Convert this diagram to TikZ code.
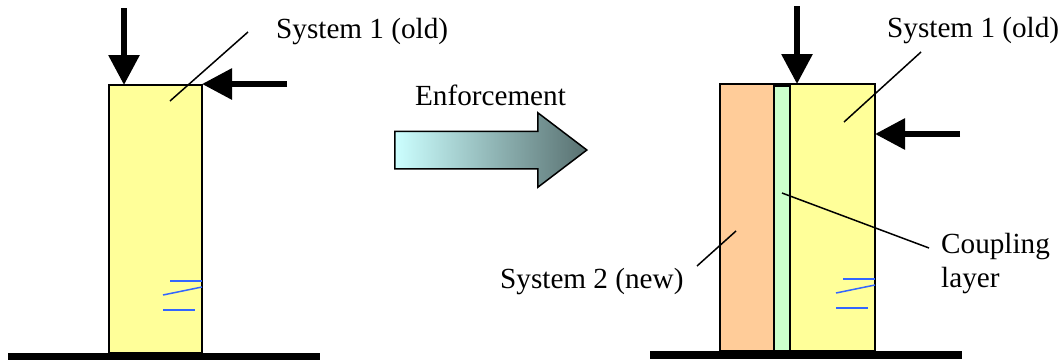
\documentclass[tikz,border=0pt]{standalone}
\usepackage{fontspec}
\setmainfont{Liberation Serif}
\usetikzlibrary{arrows.meta, positioning, shapes.arrows}

\definecolor{oldyellow}{RGB}{255,255,153}
\definecolor{neworange}{RGB}{255,204,153}
\definecolor{couplegreen}{RGB}{204,255,204}
\definecolor{springblue}{RGB}{51,102,255}
\definecolor{paleend}{RGB}{204,255,255}
\definecolor{darkend}{RGB}{88,112,112}

\begin{document}
\begin{tikzpicture}[
        x=1pt, y=-1pt,
        oldbox/.style={rectangle, draw, line width=1.7pt, fill=oldyellow, outer sep=0pt, inner sep=0pt},
        newbox/.style={rectangle, draw, line width=1.7pt, fill=neworange, outer sep=0pt, inner sep=0pt},
        couplebox/.style={rectangle, draw, line width=1.7pt, fill=couplegreen, outer sep=0pt, inner sep=0pt},
        groundbar/.style={rectangle, fill=black, minimum height=7pt, outer sep=0pt, inner sep=0pt},
        loadarrow/.style={line width=6pt, -{Triangle[length=30pt, width=30pt]}},
        leader/.style={-, line width=1.5pt},
        spring/.style={-, line width=1.5pt, springblue},
        lab/.style={font=\fontsize{29.2}{34}\selectfont, align=left, inner sep=0pt, anchor=base west},
        enforcearrow/.style={single arrow, draw, line width=1.5pt, left color=paleend, right color=darkend,
                shading angle=90, minimum height=192pt, minimum width=73pt, inner xsep=0pt, inner ysep=18pt,
                single arrow head extend=18.5pt, single arrow tip angle=74.5, single arrow head indent=0pt, outer sep=0pt},
    ]
    \useasboundingbox (0,0) rectangle (1063,360);

    % === BEFORE ===
    \node[oldbox, minimum width=93pt, minimum height=268pt] (oldleft) at (155.5,219) {};
    \node[groundbar, minimum width=312pt] (groundleft) at (164,356.5) {};
    \node[lab] (labelleft) at (276,38) {System 1 (old)};

    \coordinate (topleft) at (124,8);
    \coordinate (sideleft) at (287,84);
    \coordinate (leadleft) at (248,32);
    \draw[loadarrow] (topleft) -- (topleft |- oldleft.north);
    \draw[loadarrow] (sideleft) -- (sideleft -| oldleft.east);
    \draw[leader] (leadleft) -- (170,101);

    % === ENFORCEMENT ===
    \node[enforcearrow] (enforce) at (478.5,150) {};
    \node[lab, anchor=base] (enforcelab) at (490.5,105) {Enforcement};

    % === AFTER ===
    \node[oldbox, minimum width=100pt, minimum height=267pt] (oldright) at (825,217.5) {};
    \node[newbox, minimum width=55pt, minimum height=267pt] (newright) at (747.5,217.5) {};
    \node[couplebox, minimum width=16pt, minimum height=265pt] (couple) at (782,218.5) {};
    \node[groundbar, minimum width=312pt, minimum height=8pt] (groundright) at (806,355) {};

    \node[lab] (labelright) at (887,37) {System 1 (old)};
    \node[lab] (labelnew) at (500,288) {System 2 (new)};
    \node[lab] (labelcouple) at (941,287) {Coupling\\layer};

    \coordinate (topright) at (797,6);
    \coordinate (sideright) at (960,134);
    \coordinate (leadright) at (921,52);
    \coordinate (leadnew) at (697,266);
    \coordinate (leadcouple) at (929,248);
    \draw[loadarrow] (topright) -- (topright |- oldright.north);
    \draw[loadarrow] (sideright) -- (sideright -| oldright.east);
    \draw[leader] (leadright) -- (844,122);
    \draw[leader] (leadnew) -- (736,231);
    \draw[leader] (leadcouple) -- (782,193);

    % Springs
    \foreach \sysbox in {oldleft, oldright} {
            \begin{scope}[shift={(\sysbox.south east)}]
                \draw[spring] (-32,-72) -- (0,-72);
                \draw[spring] (-39,-58) -- (0,-66);
                \draw[spring] (-39,-43) -- (-7,-43);
            \end{scope}
        }
\end{tikzpicture}
\end{document}
